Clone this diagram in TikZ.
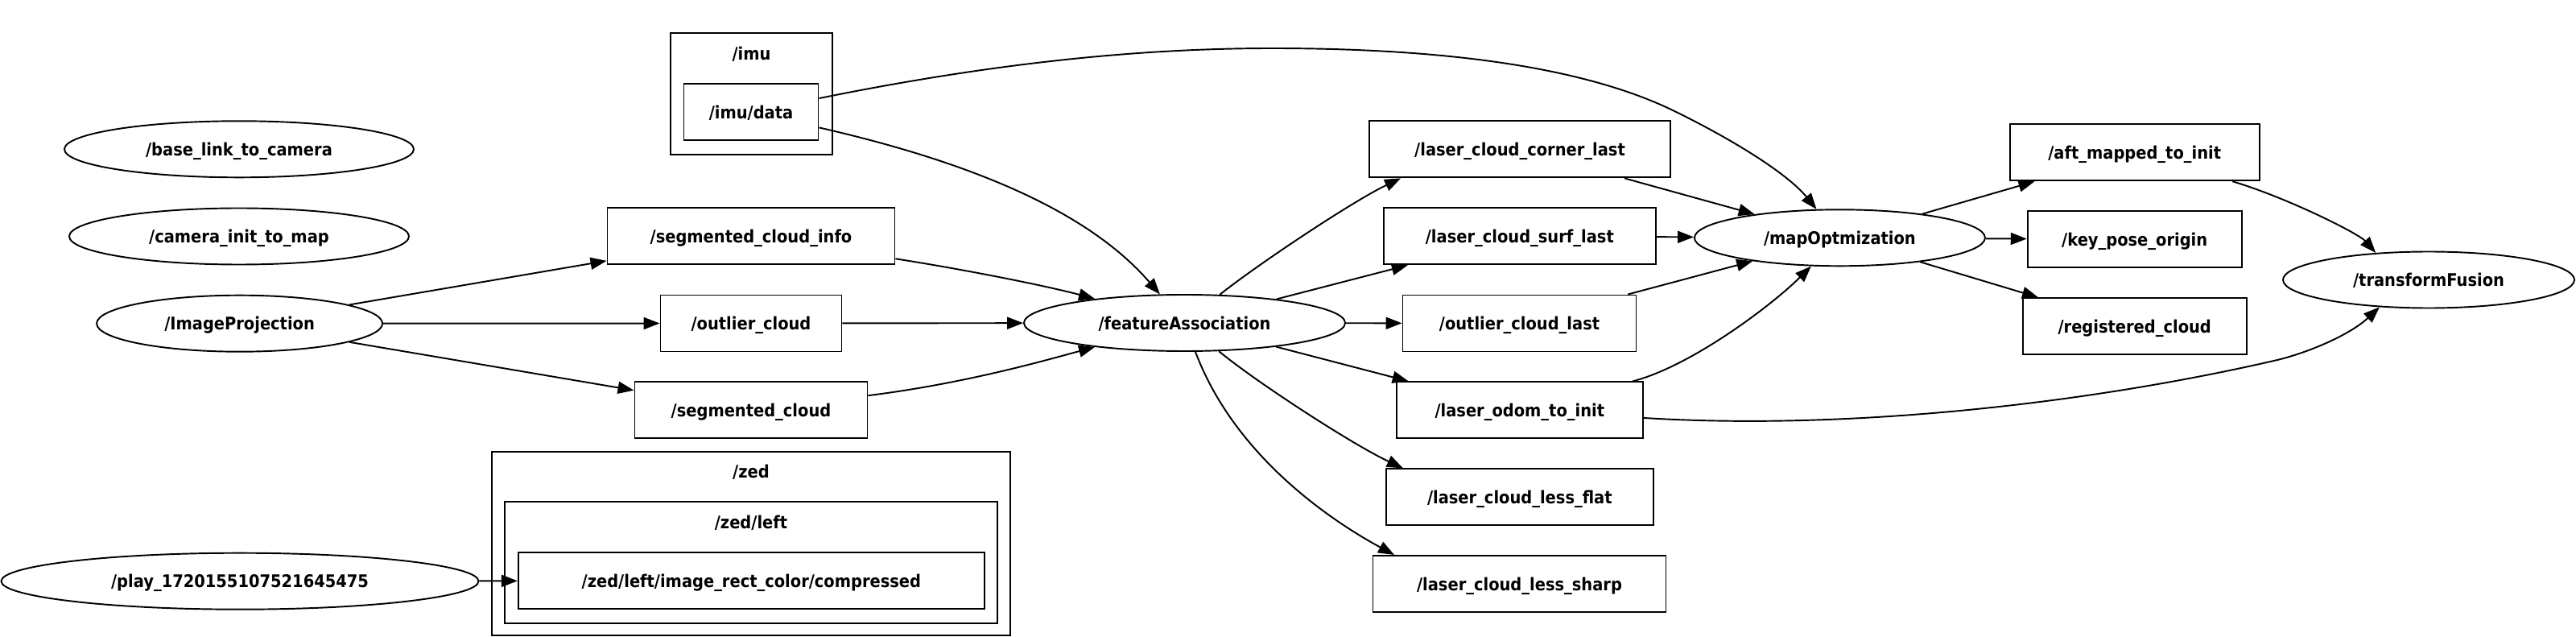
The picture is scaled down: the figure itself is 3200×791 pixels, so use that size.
\documentclass[tikz,border=0pt]{standalone}
\usepackage{fontspec}
\newfontfamily\rosfont[FakeStretch=0.9]{DejaVu Sans}
\usetikzlibrary{arrows.meta,shapes.geometric}

\begin{document}
\begin{tikzpicture}[x=0.2mm,y=-0.2mm,>={Triangle[length=4mm,width=3mm]},
  every node/.style={font=\rosfont\bfseries\fontsize{12.3}{14}\selectfont,text depth=0pt},
  rosnode/.style={draw,ellipse,line width=1.1pt,minimum width=#1*0.2mm,minimum height=14mm,inner sep=0pt},
  rostopic/.style={draw,rectangle,line width=1.1pt,minimum width=#1*0.2mm,minimum height=14mm,inner sep=0pt},
  cluster/.style={draw,line width=1.1pt},
  link/.style={->,line width=1.1pt}]
  \useasboundingbox (0,0) rectangle (3200,791);

  % namespaces
  \draw[cluster] (833,41) rectangle (1034,191.7);
  \node (imulbl) at (933.5,66.7) {/imu};
  \draw[cluster] (611,561.3) rectangle (1255,789);
  \node (zedlbl) at (933,585.7) {/zed};
  \draw[cluster] (626.8,623) rectangle (1239.4,773.7);
  \node (zedleftlbl) at (933,648.3) {/zed/left};

  % ros nodes
  \node[rosnode=434] (blc) at (297,185.3) {/base\_link\_to\_camera};
  \node[rosnode=422] (cim) at (297,293.5) {/camera\_init\_to\_map};
  \node[rosnode=355] (ip) at (297.6,401.7) {/ImageProjection};
  \node[rosnode=593] (play) at (298,721.7) {/play\_1720155107521645475};
  \node[rosnode=399] (fa) at (1471.5,401) {/featureAssociation};
  \node[rosnode=361] (mo) at (2285.4,295.3) {/mapOptmization};
  \node[rosnode=362] (tf) at (3017,347.5) {/transformFusion};

  % topics
  \node[rostopic=167] (imudata) at (933,139.2) {/imu/data};
  \node[rostopic=357] (sci) at (933,293.3) {/segmented\_cloud\_info};
  \node[rostopic=225] (oc) at (933,401.5) {/outlier\_cloud};
  \node[rostopic=289] (sc) at (933,509.3) {/segmented\_cloud};
  \node[rostopic=579] (zimg) at (933.4,721) {/zed/left/image\_rect\_color/compressed};
  \node[rostopic=374] (lccl) at (1888,185.4) {/laser\_cloud\_corner\_last};
  \node[rostopic=338] (lcsl) at (1887.8,293.3) {/laser\_cloud\_surf\_last};
  \node[rostopic=290] (ocl) at (1887.5,401.5) {/outlier\_cloud\_last};
  \node[rostopic=306] (loti) at (1887.8,509.4) {/laser\_odom\_to\_init};
  \node[rostopic=332] (lclf) at (1887.8,617.3) {/laser\_cloud\_less\_flat};
  \node[rostopic=364] (lcls) at (1887.5,725) {/laser\_cloud\_less\_sharp};
  \node[rostopic=310] (amti) at (2651.7,189.3) {/aft\_mapped\_to\_init};
  \node[rostopic=266] (kpo) at (2651.7,297.3) {/key\_pose\_origin};
  \node[rostopic=278] (rc) at (2651.7,405.3) {/registered\_cloud};

  % connections
  \draw[link] (ip) -- (sci);
  \draw[link] (ip) -- (oc);
  \draw[link] (ip) -- (sc);
  \draw[link] (play) -- (zimg);
  \draw[link] (sci) .. controls (1200,335) and (1300,355) .. (fa);
  \draw[link] (oc) -- (fa);
  \draw[link] (sc) .. controls (1200,476) and (1300,447) .. (fa);
  \draw[link] (imudata) .. controls (1200,200) and (1350,260) .. (fa);
  \draw[link] (imudata) .. controls (1250,75) and (1430,60) .. (1580,60)
    .. controls (1780,60) and (1960,80) .. (2078,137)
    .. controls (2150,172) and (2220,215) .. (mo);
  \draw[link] (fa) .. controls (1560,330) and (1680,250) .. ([xshift=8mm]lccl.south west);
  \draw[link] (fa) -- (lcsl);
  \draw[link] (fa) -- (ocl);
  \draw[link] (fa) -- (loti);
  \draw[link] (fa) .. controls (1560,474) and (1680,552) .. ([xshift=4.4mm]lclf.north west);
  \draw[link] (fa) .. controls (1535,570) and (1660,650) .. ([xshift=5.5mm]lcls.north west);
  \draw[link] (lccl) -- (mo);
  \draw[link] (lcsl) -- (mo);
  \draw[link] (ocl) -- (mo);
  \draw[link] (loti) .. controls (2100,455) and (2200,380) .. (mo);
  \draw[link] (loti) .. controls (2300,535) and (2600,500) .. (2829,447)
    .. controls (2870,437) and (2920,415) .. (tf.209);
  \draw[link] (mo) -- (amti);
  \draw[link] (mo) -- (kpo);
  \draw[link] (mo) -- (rc);
  \draw[link] (amti) .. controls (2840,245) and (2930,290) .. (tf.153);
\end{tikzpicture}
\end{document}
